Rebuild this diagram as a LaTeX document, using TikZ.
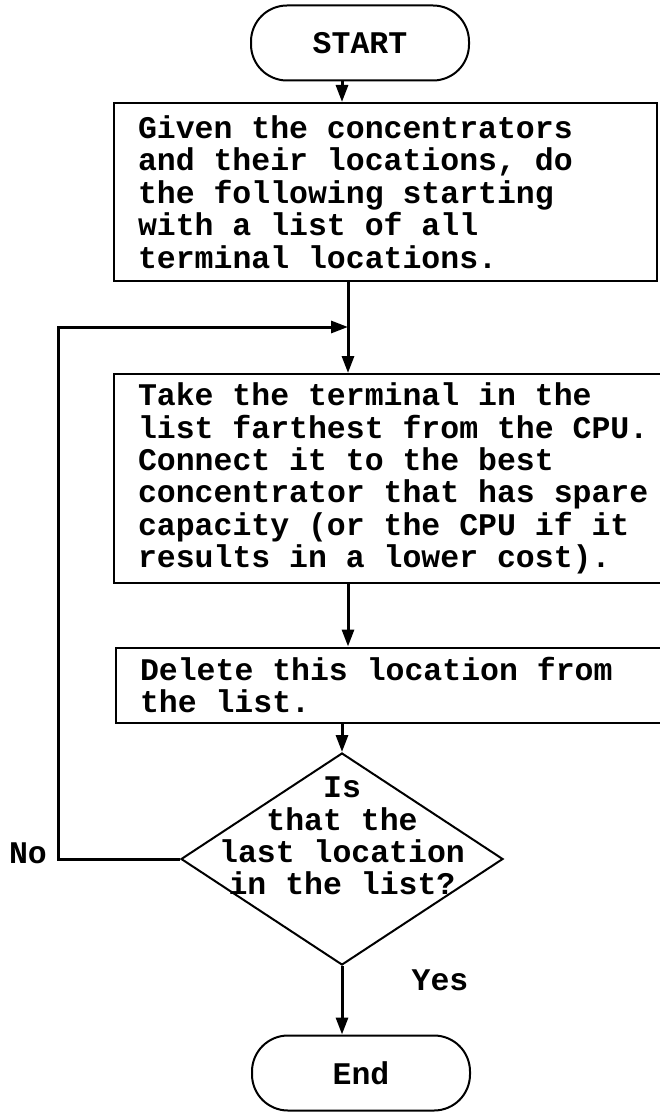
\documentclass[tikz,border=0pt]{standalone}
\usepackage{fontspec}
\setmonofont{Liberation Mono}
\usetikzlibrary{arrows.meta,shapes.geometric}
\newcommand\flowfont{\ttfamily\bfseries\fontsize{31.5}{32.4}\selectfont}

\begin{document}
\begin{tikzpicture}[x=1pt,y=-1pt,
 every node/.append style={execute at begin node={\spaceskip=18.9pt\relax
 \xspaceskip=18.9pt\relax}},
 box/.style={draw,line width=2pt,inner xsep=24pt,inner ysep=4pt,align=left,
 font=\flowfont},
 term/.style={draw,line width=2pt,rounded corners=36pt,minimum width=218pt,
 minimum height=75pt,font=\flowfont},
 decision/.style={diamond,draw,line width=2pt,inner sep=0pt,
 minimum width=322pt,minimum height=212pt},
 lbl/.style={inner sep=0pt,font=\flowfont},
 arrow/.style={-{Triangle[length=17pt,width=12pt]},line width=3pt},
 line/.style={line width=3pt}
]
\clip (0,0) rectangle (660,1113);
\node[term] (start) at (360,43) {START};
\node[box,text width=495pt,minimum height=178pt] (given) at (385.5,192)
 {Given the concentrators\\and their locations, do\\the following starting\\with a list of all\\terminal locations.};
\node[box,text width=518pt,minimum height=209pt] (take) at (397,478.5)
 {Take the terminal in the\\list farthest from the CPU.\\Connect it to the best\\concentrator that has spare\\capacity (or the CPU if it\\results in a lower cost).};
\node[box,text width=516pt,minimum height=75pt] (delete) at (398,685)
 {Delete this location from\\the list.};
\node[decision] (ask) at (342,859) {};
\node[lbl,align=center] (asktext) at (342,836) {Is\\that the\\last location\\in the list?};
\node[term] (end) at (361,1073) {End};
\node[lbl] (no) at (28,853) {No};
\node[lbl] (yes) at (440,980) {Yes};
\coordinate (join) at (348,327);
\coordinate (loop) at (58,327);
\draw[arrow] (start.south -| ask) -- (given.north -| ask);
\draw[line] (given.south -| join) -- (join);
\draw[arrow] (join) -- (join |- take.north);
\draw[arrow] (take.south -| join) -- (join |- delete.north);
\draw[arrow] (delete.south -| ask) -- (ask.north);
\draw[arrow] (ask.south) -- (end.north -| ask);
\draw[arrow] (ask.west) -- (ask.west -| loop) -- (loop) -- (join);
\end{tikzpicture}
\end{document}
